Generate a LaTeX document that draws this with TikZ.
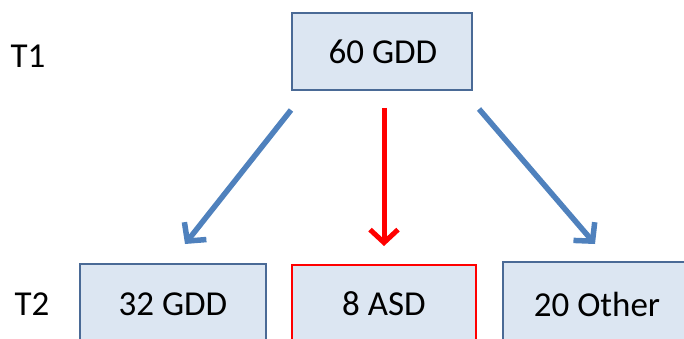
\documentclass[tikz,border=0pt]{standalone}
\usepackage{fontspec}
\setmainfont{Carlito}
\usetikzlibrary{arrows.meta}
\definecolor{boxfill}{HTML}{DCE6F2}
\definecolor{boxline}{HTML}{4A6A96}
\definecolor{arrblue}{HTML}{4F81BD}
\definecolor{arrred}{HTML}{FF0000}
\tikzset{
  box/.style={draw=boxline, line width=1.5pt, fill=boxfill},
  redbox/.style={box, draw=arrred},
  lbl/.style={font=\fontsize{35}{40}\selectfont},
  bluearrow/.style={draw=arrblue, line width=5.5pt, -{Straight Barb[length=13pt,width=28pt]}},
  redarrow/.style={draw=arrred, line width=5pt, -{Straight Barb[length=13pt,width=28pt]}}
}
\begin{document}
\begin{tikzpicture}[x=1pt,y=-1pt]
\useasboundingbox (0,0) rectangle (684,339);
\begin{scope}
\clip (0,0) rectangle (684,339);
\draw[box] (292,13) rectangle (472,90);
\node[lbl] (top) at (383,52) {60 GDD};
\draw[box] (80,264) rectangle (266,345);
\node[lbl] (gdd) at (173,304) {32 GDD};
\draw[redbox] (292,265) rectangle (476,345);
\node[lbl] (asd) at (384,304) {8 ASD};
\draw[box] (503,262) rectangle (692,345);
\node[lbl] (oth) at (597,304) {20 Other};
\end{scope}
\node[lbl] (t1) at (28,56) {T1};
\node[lbl] (t2) at (32,304) {T2};
\coordinate (l1) at (291,110);
\coordinate (l2) at (185,244);
\coordinate (m1) at (384,108);
\coordinate (m2) at (384,246);
\coordinate (r1) at (479,109);
\coordinate (r2) at (595,244);
\draw[bluearrow] (l1) -- (l2);
\draw[redarrow] (m1) -- (m2);
\draw[bluearrow] (r1) -- (r2);
\end{tikzpicture}
\end{document}
